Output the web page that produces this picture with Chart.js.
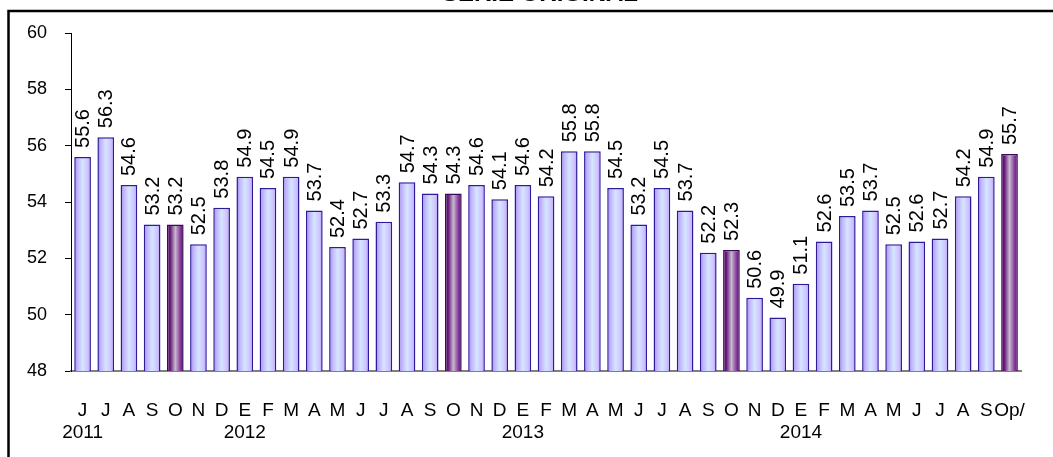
<!DOCTYPE html>
<html>
<head>
<meta charset="utf-8">
<script src="https://cdn.jsdelivr.net/npm/chart.js@4.4.0/dist/chart.umd.min.js"></script>
<style>
  html, body { margin: 0; padding: 0; background: #fff; overflow: hidden; }
</style>
</head>
<body>
<canvas id="serieChart" width="1053" height="457"></canvas>
<script>
// monthly index, jun 2011 - oct 2014 (p/ = preliminary)
const months = ['J','J','A','S','O','N','D',
  'E','F','M','A','M','J','J','A','S','O','N','D',
  'E','F','M','A','M','J','J','A','S','O','N','D',
  'E','F','M','A','M','J','J','A','S','Op/']
const yearMarks = [[0, '2011'], [7, '2012'], [19, '2013'], [31, '2014']]
const values = [55.6, 56.3, 54.6, 53.2, 53.2, 52.5, 53.8,
  54.9, 54.5, 54.9, 53.7, 52.4, 52.7, 53.3, 54.7, 54.3, 54.3, 54.6, 54.1,
  54.6, 54.2, 55.8, 55.8, 54.5, 53.2, 54.5, 53.7, 52.2, 52.3, 50.6, 49.9,
  51.1, 52.6, 53.5, 53.7, 52.5, 52.6, 52.7, 54.2, 54.9, 55.7]
const highlighted = [4, 16, 28, 40]
const yTicks = { min: 48, max: 60, step: 2 }

const FONT = 'Arial, "Liberation Sans", sans-serif'
const BAR_PCT = 0.72

const labels = months.map((m, i) => {
  const y = yearMarks.find(p => p[0] === i)
  return [m, y ? y[1] : '']
})

function barFill (c) {
  const chart = c.chart
  const xs = chart.scales.x
  const dark = highlighted.includes(c.dataIndex)
  if (!xs || !chart.chartArea) return dark ? '#7a2a8a' : '#c8c0ff'
  const cx = xs.getPixelForValue(c.dataIndex)
  const half = xs.width / months.length * BAR_PCT / 2
  const g = chart.ctx.createLinearGradient(cx - half, 0, cx + half, 0)
  if (dark) {
    g.addColorStop(0, '#4e0660')
    g.addColorStop(0.2, '#6a1a7c')
    g.addColorStop(0.5, '#c4bccc')
    g.addColorStop(0.8, '#8a3a9c')
    g.addColorStop(1, '#5a0a6c')
  } else {
    g.addColorStop(0, '#9a86ee')
    g.addColorStop(0.2, '#c2b4ff')
    g.addColorStop(0.5, '#d4e6ff')
    g.addColorStop(0.8, '#d0c4ff')
    g.addColorStop(1, '#b498fa')
  }
  return g
}

const frame = {
  id: 'frame',
  beforeDraw (chart) {
    const ctx = chart.ctx
    ctx.save()
    ctx.fillStyle = '#fff'
    ctx.fillRect(0, 0, chart.width, chart.height)
    ctx.strokeStyle = '#000'
    ctx.lineWidth = 2.5
    ctx.strokeRect(8.5, 11, 2000, 2000)
    ctx.fillStyle = '#000'
    ctx.font = 'bold 24px ' + FONT
    ctx.textAlign = 'center'
    ctx.textBaseline = 'alphabetic'
    ctx.fillText('SERIE ORIGINAL', 540, 1)
    ctx.restore()
  }
}

const valueLabels = {
  id: 'valueLabels',
  afterDatasetsDraw (chart) {
    const ctx = chart.ctx
    const meta = chart.getDatasetMeta(0)
    ctx.save()
    ctx.font = '20px ' + FONT
    ctx.fillStyle = '#000'
    ctx.textAlign = 'left'
    ctx.textBaseline = 'middle'
    meta.data.forEach((bar, i) => {
      ctx.save()
      ctx.translate(bar.x + 1, bar.y - 9)
      ctx.rotate(-Math.PI / 2)
      ctx.fillText(values[i].toFixed(1), 0, 0)
      ctx.restore()
    })
    ctx.restore()
  }
}

new Chart(document.getElementById('serieChart'), {
  type: 'bar',
  data: {
    labels: labels,
    datasets: [{
      data: values,
      backgroundColor: barFill,
      borderColor: c => highlighted.includes(c.dataIndex) ? '#3a0a5a' : '#2c1c9c',
      borderWidth: 1.5,
      barPercentage: BAR_PCT,
      categoryPercentage: 1
    }]
  },
  options: {
    responsive: false,
    animation: false,
    layout: { padding: { top: 33, right: 15, left: 0, bottom: 0 } },
    plugins: {
      legend: { display: false },
      tooltip: { enabled: false }
    },
    scales: {
      x: {
        grid: { display: false, drawTicks: false },
        border: { color: '#808080', width: 2 },
        ticks: {
          color: '#000',
          font: { family: FONT, size: 19 },
          padding: 28,
          maxRotation: 0,
          autoSkip: false
        },
        afterFit: s => { s.height = 86 }
      },
      y: {
        min: yTicks.min,
        max: yTicks.max,
        ticks: {
          stepSize: yTicks.step,
          color: '#000',
          font: { family: FONT, size: 18 },
          padding: 18
        },
        grid: { drawOnChartArea: false, drawTicks: true, tickLength: 6, color: '#000' },
        border: { color: '#000', width: 1 },
        afterFit: s => { s.width = 71 }
      }
    }
  },
  plugins: [frame, valueLabels]
})
</script>
</body>
</html>
